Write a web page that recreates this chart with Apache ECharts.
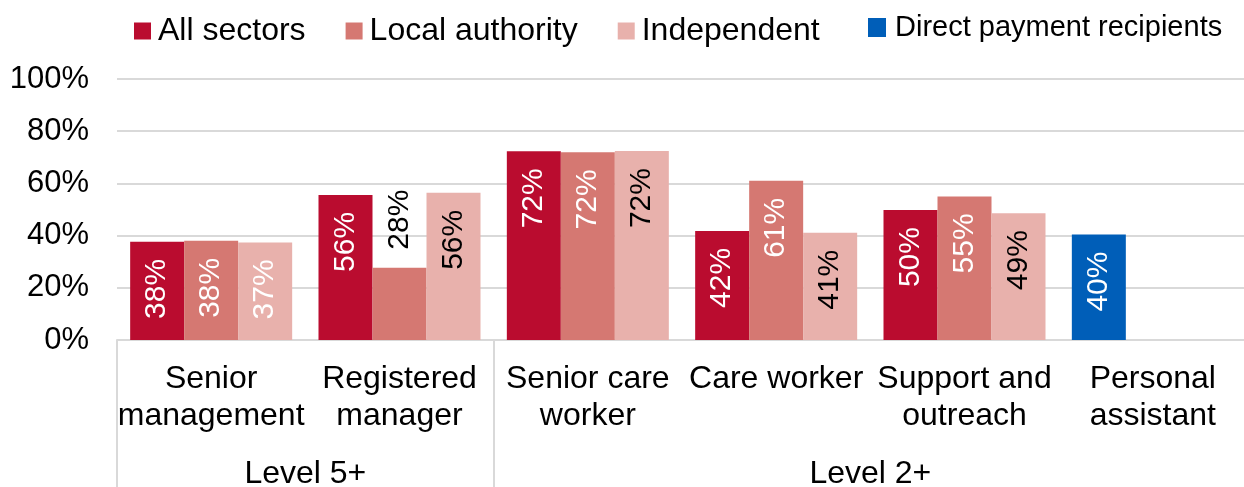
<!DOCTYPE html>
<html>
<head>
<meta charset="utf-8">
<script src="https://cdn.jsdelivr.net/npm/echarts@6/dist/echarts.min.js"></script>
<style>
  html, body { margin: 0; padding: 0; background: #ffffff; }
  #chart { width: 1244px; height: 487px; }
</style>
</head>
<body>
<div id="chart"></div>
<script>
// Job roles along the axis
const categories = [
  'Senior\nmanagement',
  'Registered\nmanager',
  'Senior care\nworker',
  'Care worker',
  'Support and\noutreach',
  'Personal\nassistant'
];
// Role groups and how many roles each one spans
const groupNames = ['Level 5+', 'Level 2+'];
const groupSpans = [2, 4];

// Share of workers holding the qualification (%)
const allSectors     = [37.6, 55.6, 72.3, 41.8, 49.8, null];
const localAuthority = [38.0, 27.7, 71.9, 61.0, 55.0, null];
const independent    = [37.4, 56.4, 72.4, 41.1, 48.6, null];
const directPayment  = [null, null, null, null, null, 40.4];

const seriesNames = ['All sectors', 'Local authority', 'Independent', 'Direct payment recipients'];
const yTicks = [0, 20, 40, 60, 80, 100];

// Colours
const colors = ['#BA0C2F', '#D57872', '#E8B1AC', '#005EB8'];
const independentLabelColors = ['#ffffff', '#000000', '#000000', '#000000', '#000000', '#000000'];

const FONT = "'Liberation Sans', Arial, Helvetica, sans-serif";
const GRID = '#D9D9D9';

// Group boundaries and centres in category units
const boundaries = [0];
const centres = [];
groupSpans.forEach(function (s) {
  const start = boundaries[boundaries.length - 1];
  centres.push(start + s / 2);
  boundaries.push(start + s);
});

function fmt(v) { return Math.round(v) + '%'; }

// Rotated value labels: inside the top of the bar, or above it when the bar is too short
function makeData(values, labelColors) {
  return values.map(function (v, i) {
    if (v == null) return null;
    const outside = v < 30;
    return {
      value: v,
      label: outside ? {
        position: 'top', align: 'left', distance: 18, color: '#000000'
      } : {
        position: 'insideTop', align: 'right', distance: 17,
        color: labelColors ? labelColors[i] : '#ffffff'
      }
    };
  });
}

const baseLabel = {
  show: true,
  rotate: 90,
  verticalAlign: 'middle',
  fontFamily: FONT,
  fontSize: 30,
  textBorderWidth: 0,
  formatter: function (p) { return fmt(p.value); }
};

const chart = echarts.init(document.getElementById('chart'), null, { renderer: 'canvas' });

chart.setOption({
  animation: false,
  backgroundColor: '#ffffff',
  textStyle: { fontFamily: FONT },
  legend: [{
    data: seriesNames.slice(0, 3),
    left: 129, top: 8,
    itemWidth: 17, itemHeight: 17, itemGap: 40,
    icon: 'rect',
    textStyle: { fontFamily: FONT, fontSize: 32, color: '#000000', lineHeight: 36, padding: [0, 0, 0, 2] }
  }, {
    data: [seriesNames[3]],
    left: 863, top: 6,
    itemWidth: 18, itemHeight: 19, itemGap: 10,
    icon: 'rect',
    textStyle: { fontFamily: FONT, fontSize: 29, color: '#000000', lineHeight: 33, padding: [0, 0, 0, 4] }
  }],
  grid: {
    left: 117, top: 79, width: 1130, height: 261,
    containLabel: false, outerBoundsMode: 'none'
  },
  xAxis: [{
    type: 'category',
    data: categories,
    axisLine: { show: true, lineStyle: { color: GRID, width: 2 } },
    axisTick: { show: false },
    axisLabel: {
      interval: 0, margin: 21, fontFamily: FONT, fontSize: 32, lineHeight: 37, color: '#000000'
    }
  }, {
    type: 'value',
    min: 0, max: categories.length,
    position: 'bottom',
    axisLine: { show: false },
    splitLine: { show: false },
    axisTick: {
      show: true, inside: false, length: 150,
      customValues: boundaries,
      lineStyle: { color: GRID, width: 2 }
    },
    axisLabel: {
      show: true, margin: 116,
      customValues: centres,
      fontFamily: FONT, fontSize: 32, lineHeight: 37, color: '#000000',
      formatter: function (v) {
        const k = centres.indexOf(v);
        return k >= 0 ? groupNames[k] : '';
      }
    }
  }],
  yAxis: {
    type: 'value',
    min: yTicks[0], max: yTicks[yTicks.length - 1], interval: 20,
    axisLine: { show: false },
    axisTick: { show: false },
    splitLine: { lineStyle: { color: GRID, width: 2 } },
    axisLabel: {
      margin: 28, fontFamily: FONT, fontSize: 31, color: '#000000',
      formatter: '{value}%'
    }
  },
  series: [{
    name: seriesNames[0], type: 'bar', stack: 'first', barWidth: 54, barGap: '0%',
    itemStyle: { color: colors[0] },
    label: baseLabel,
    data: makeData(allSectors)
  }, {
    name: seriesNames[1], type: 'bar', barWidth: 54, barGap: '0%',
    itemStyle: { color: colors[1] },
    label: baseLabel,
    data: makeData(localAuthority)
  }, {
    name: seriesNames[2], type: 'bar', barWidth: 54, barGap: '0%',
    itemStyle: { color: colors[2] },
    label: baseLabel,
    data: makeData(independent, independentLabelColors)
  }, {
    name: seriesNames[3], type: 'bar', stack: 'first', barWidth: 54, barGap: '0%',
    itemStyle: { color: colors[3] },
    label: baseLabel,
    data: makeData(directPayment)
  }]
});
</script>
</body>
</html>
